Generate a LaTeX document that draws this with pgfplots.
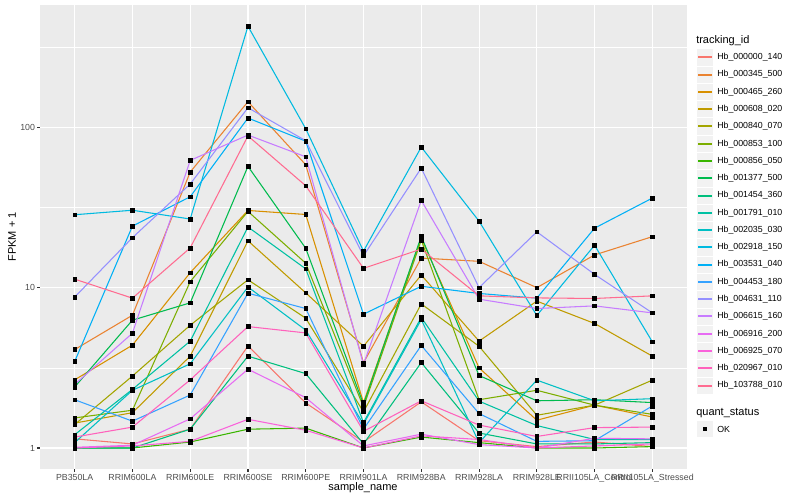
\documentclass[border=0pt]{standalone}
\usepackage{fontspec}
\setmainfont{Liberation Sans}
\usepackage{pgfplots}
\usepackage{pgfplotstable}
\pgfplotsset{compat=1.18}

\definecolor{panelgrey}{HTML}{EBEBEB}
\definecolor{keygrey}{HTML}{F2F2F2}
\definecolor{labelgrey}{HTML}{4D4D4D}
\definecolor{tickgrey}{HTML}{333333}
\definecolor{c1}{HTML}{F8766D}
\definecolor{c2}{HTML}{EA8331}
\definecolor{c3}{HTML}{D89000}
\definecolor{c4}{HTML}{C09B00}
\definecolor{c5}{HTML}{A3A500}
\definecolor{c6}{HTML}{7CAE00}
\definecolor{c7}{HTML}{39B600}
\definecolor{c8}{HTML}{00BB4E}
\definecolor{c9}{HTML}{00BF7D}
\definecolor{c10}{HTML}{00C1A3}
\definecolor{c11}{HTML}{00BFC4}
\definecolor{c12}{HTML}{00BAE0}
\definecolor{c13}{HTML}{00B0F6}
\definecolor{c14}{HTML}{35A2FF}
\definecolor{c15}{HTML}{9590FF}
\definecolor{c16}{HTML}{C77CFF}
\definecolor{c17}{HTML}{E76BF3}
\definecolor{c18}{HTML}{FA62DB}
\definecolor{c19}{HTML}{FF62BC}
\definecolor{c20}{HTML}{FF6C91}

% FPKM + 1, one column per tracking_id, one row per sample (0..10)
\pgfplotstableread{
x  s1   s2    s3   s4   s5   s6   s7   s8   s9   s10  s11  s12  s13   s14  s15   s16  s17  s18  s19  s20
0  1.14 4.11  2.66 1.43 1.40 1.54 1.00 2.40 1.00 1.21 1.08 28.5 3.46  2.00 8.73  2.49 1.01 1.00 1.17 11.3
1  1.06 6.73  4.38 1.66 2.81 1.72 1.00 6.27 1.00 2.32 2.29 30.4 24.2  1.47 20.5  5.20 1.04 1.03 1.35 8.60
2  1.31 52.6  12.4 3.74 5.83 10.9 1.09 8.04 1.31 4.64 3.35 26.8 36.9  2.14 44.3  62.2 1.52 1.10 2.66 17.7
3  4.33 144.5 30.3 19.6 11.2 29.9 1.31 57.1 3.74 23.9 10.1 427  114.3 9.24 132.5 89.5 3.10 1.51 5.72 88.4
4  1.91 58.4  28.6 9.28 6.45 14.2 1.33 17.6 2.91 13.1 5.43 98.0 82.0  7.41 82.5  65.5 2.06 1.29 5.22 43.2
5  1.09 3.40  1.92 4.31 1.68 1.80 1.00 1.87 1.06 1.44 1.41 16.9 6.83  1.31 15.8  3.32 1.03 1.00 1.27 13.2
6  1.94 15.3  20.4 12.0 7.92 19.8 1.17 20.9 3.41 6.52 6.33 75.3 10.2  4.36 55.7  35.0 1.22 1.19 1.97 17.4
7  1.11 14.6  3.16 4.64 4.31 2.00 1.08 2.83 1.24 1.96 1.08 26.0 9.20  1.64 10.0  8.48 1.05 1.13 1.39 8.89
8  1.02 10.0  1.49 8.24 1.60 2.29 1.00 1.97 1.06 1.38 2.65 6.70 8.60  1.10 22.3  7.41 1.00 1.00 1.18 8.63
9  1.09 16.0  1.85 5.98 1.85 1.85 1.00 2.00 1.06 1.13 1.97 18.4 23.5  1.11 12.1  7.70 1.15 1.03 1.34 8.56
10 1.02 20.8  1.56 3.74 2.65 1.62 1.02 1.92 1.08 1.13 2.03 4.59 36.2  1.83 6.96  6.96 1.14 1.06 1.35 8.89
}\fpkm

\begin{document}
\begin{tikzpicture}
\begin{axis}[
    at={(30pt,23.25pt)}, anchor=south west,
    scale only axis, width=485.25pt, height=348pt,
    ymode=log,
    xmin=-0.6, xmax=10.6, ymin=0.7396, ymax=579.4,
    axis background/.style={fill=panelgrey},
    axis line style={draw=none},
    grid=major,
    major grid style={white, line width=0.8pt},
    xtick={0,...,10},
    xticklabels={PB350LA,RRIM600LA,RRIM600LE,RRIM600SE,RRIM600PE,RRIM901LA,RRIM928BA,RRIM928LA,RRIM928LE,RRII105LA\_Control,RRII105LA\_Stressed},
    ytick={1,10,100}, yticklabels={1,10,100},
    minor tick length=0pt,
    extra y ticks={3.1623,31.623,316.23},
    extra y tick labels={},
    extra y tick style={major tick length=0pt, major grid style={white, line width=0.4pt}},
    tick align=outside, tick pos=left,
    major tick length=2.06pt,
    tick style={color=tickgrey, line width=0.8pt},
    ticklabel style={font=\fontsize{6.6}{7}\selectfont, text=labelgrey},
    xticklabel style={inner sep=1.5pt},
    yticklabel style={inner sep=1.5pt},
]
\pgfplotsinvokeforeach{1,...,20}{
  \addplot[color=c#1, line width=0.8pt, no marks] table[x=x, y=s#1] {\fpkm};
}
\pgfplotsinvokeforeach{1,...,20}{
  \addplot[only marks, mark=square*, mark size=1.4pt, mark options={black, draw=black, fill=black}] table[x=x, y=s#1] {\fpkm};
}
\end{axis}

\begin{scope}[x=0.75pt, y=-0.75pt, yshift=375pt]
\path[use as bounding box] (0,0) rectangle (800,500);
% axis titles
\node[font=\fontsize{8.25}{10}\selectfont] at (363,488) {sample\_name};
\node[font=\fontsize{8.25}{10}\selectfont, rotate=90] at (12,237) {FPKM + 1};

% legend
\node[anchor=west, font=\fontsize{8.25}{10}\selectfont, inner sep=0pt] at (696,40.7) {tracking\_id};
\foreach \i/\name in {1/000000\_140,2/000345\_500,3/000465\_260,4/000608\_020,5/000840\_070,
  6/000853\_100,7/000856\_050,8/001377\_500,9/001454\_360,10/001791\_010,
  11/002035\_030,12/002918\_150,13/003531\_040,14/004453\_180,15/004631\_110,
  16/006615\_160,17/006916\_200,18/006925\_070,19/020967\_010,20/103788\_010}{
  \pgfmathsetmacro\yc{57.3+17.28*(\i-1)}
  \filldraw[fill=keygrey, draw=white, line width=0.5pt] (696.5,\yc-8.64) rectangle +(17.28,17.28);
  \fill[fill=c\i] (698.2,\yc-1) rectangle (712.1,\yc+1);
  \node[anchor=west, font=\fontsize{6.6}{8}\selectfont, inner sep=0pt] at (717,\yc) {Hb\_\name};
}
\node[anchor=west, font=\fontsize{8.25}{10}\selectfont, inner sep=0pt] at (696,412.7) {quant\_status};
\filldraw[fill=keygrey, draw=white, line width=0.5pt] (696.5,429-8.64) rectangle +(17.28,17.28);
\fill[black] (703.1,427) rectangle +(4,4);
\node[anchor=west, font=\fontsize{6.6}{8}\selectfont, inner sep=0pt] at (717,429) {OK};
\end{scope}
\end{tikzpicture}
\end{document}
